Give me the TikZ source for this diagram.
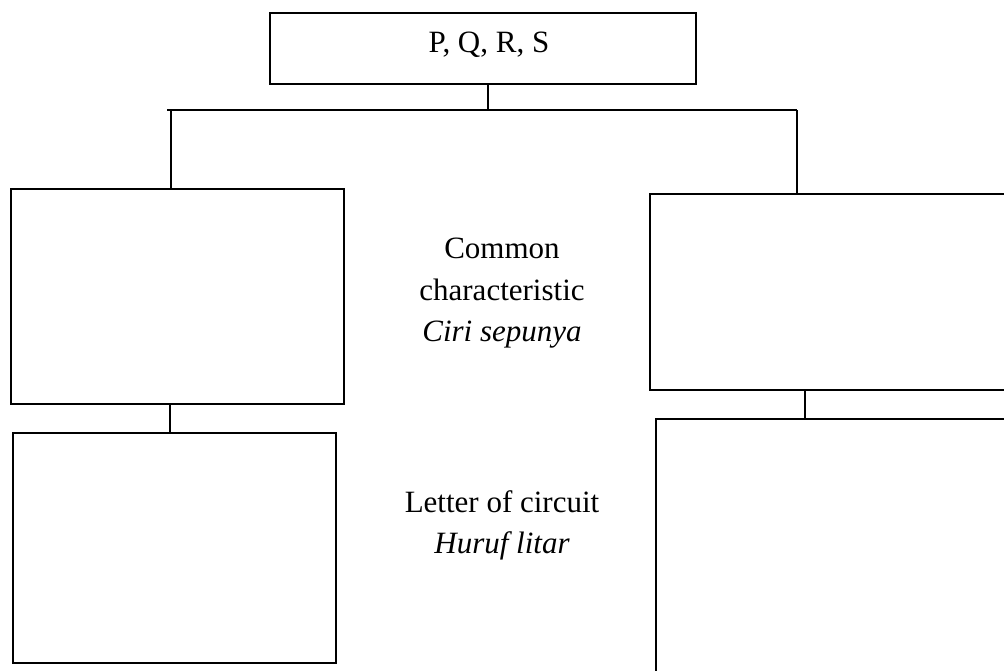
\documentclass[tikz,border=0pt]{standalone}
\usepackage{fontspec}
\setmainfont{Liberation Serif}
\begin{document}
\begin{tikzpicture}[x=1pt,y=-1pt,
    every node/.style={font=\fontsize{31}{40}\selectfont},
    box/.style={draw,line width=1.5pt,anchor=north west,inner sep=0pt},
    link/.style={line width=1.5pt},
    label/.style={anchor=base,inner sep=0pt}]
    \useasboundingbox (0,0) rectangle (1004,670);
    \clip (0,0) rectangle (1004,670);

    % top box
    \node[box,minimum width=426pt,minimum height=71pt] (top) at (269,12) {};
    \node[label] (topText) at (489,52) {P, Q, R, S};

    % left and right columns
    \node[box,minimum width=333pt,minimum height=215pt] (boxA) at (10,188) {};
    \node[box,minimum width=323pt,minimum height=230pt] (boxB) at (12,432) {};
    \node[box,minimum width=361pt,minimum height=196pt] (boxC) at (649,193) {};
    \node[box,minimum width=355pt,minimum height=262pt] (boxD) at (655,418) {};

    % middle labels
    \node[label] (common) at (502,258) {Common};
    \node[label] (charac) at (502,300) {characteristic};
    \node[label] (ciri)   at (502,341) {\itshape Ciri sepunya};
    \node[label] (letter) at (502,512) {Letter of circuit};
    \node[label] (huruf)  at (502,553) {\itshape Huruf litar};

    % connectors
    \coordinate (busL) at (167,110);
    \coordinate (busR) at (797,110);
    \coordinate (joint) at (488,110);
    \coordinate (dropL) at (171,110);
    \coordinate (linkL) at (170,0);
    \coordinate (linkR) at (805,0);
    \draw[link] (busL) -- (busR);
    \draw[link] (top.south -| joint) -- (joint);
    \draw[link] (dropL) -- (dropL |- boxA.north);
    \draw[link] (busR) -- (busR |- boxC.north);
    \draw[link] (boxA.south -| linkL) -- (linkL |- boxB.north);
    \draw[link] (boxC.south -| linkR) -- (linkR |- boxD.north);
\end{tikzpicture}
\end{document}
